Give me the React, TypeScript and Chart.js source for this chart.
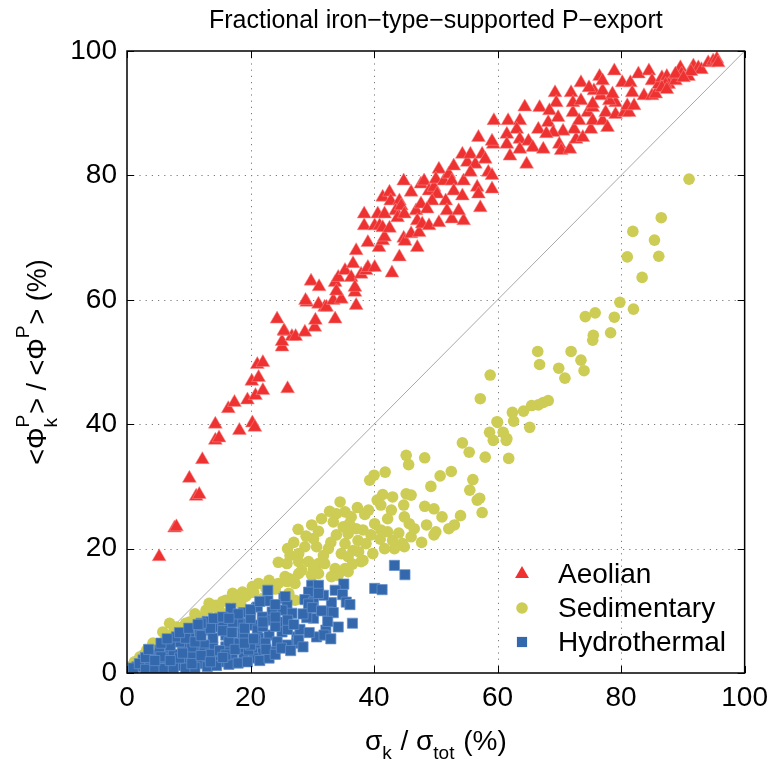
import React, { useEffect, useRef } from 'react';
import { Chart, registerables } from 'chart.js';

Chart.register(...registerables);

const FONT = '"Liberation Sans", Arial, Helvetica, sans-serif';

const titleText = 'Fractional iron\u2212type\u2212supported P\u2212export';
const seriesNames = ['Aeolian', 'Sedimentary', 'Hydrothermal'];
const tickValues = [0, 20, 40, 60, 80, 100];
const gridValues = [20, 40, 60, 80];
const diagonal: [number, number][] = [[0, 0], [100, 100]];

const RED = 'rgb(238,50,50)';
const YELLOW = 'rgb(205,204,84)';
const BLUE = 'rgb(52,104,172)';

const aeolian: [number, number][] = [
  [5.2, 18.7], [7.7, 23.3], [8.0, 23.5], [11.2, 28.4], [11.7, 28.7], [10.1, 31.3], [12.2, 34.3],
  [14.3, 37.4], [14.9, 37.8], [14.3, 40.0], [18.2, 39.0], [20.3, 40.2], [20.7, 39.5], [16.4, 42.5],
  [17.4, 43.5], [19.5, 43.9], [20.8, 44.6], [22.0, 45.4], [20.2, 46.9], [21.3, 47.5], [21.1, 49.6],
  [22.0, 49.9], [26.0, 45.7], [25.1, 52.4], [25.1, 53.3], [25.5, 54.9], [26.7, 54.1], [27.3, 54.1],
  [28.8, 54.8], [30.4, 55.6], [30.5, 56.7], [24.3, 56.9], [32.0, 58.8], [33.7, 56.9], [29.1, 59.6],
  [25.4, 55.0], [28.9, 59.9], [29.8, 63.0], [31.1, 62.1], [31.0, 59.3], [32.3, 58.8], [33.4, 59.9],
  [34.7, 60.1], [33.7, 62.8], [34.2, 63.6], [33.9, 61.4], [35.3, 64.7], [36.6, 65.8], [36.3, 63.6],
  [36.9, 61.2], [36.9, 62.0], [37.1, 59.1], [37.1, 67.9], [37.9, 64.1], [38.7, 64.7], [39.0, 65.2],
  [40.1, 65.2], [39.0, 69.2], [38.4, 73.8], [38.4, 71.9], [40.8, 68.4], [41.4, 69.5], [41.7, 70.1],
  [40.1, 71.9], [40.9, 71.9], [41.4, 71.6], [42.5, 71.5], [40.6, 73.8], [41.7, 73.8], [41.4, 76.5],
  [42.5, 77.3], [42.7, 75.9], [44.1, 75.9], [43.5, 74.3], [44.4, 75.1], [43.8, 73.2], [44.9, 73.8],
  [44.8, 79.1], [44.1, 66.9], [42.9, 64.3], [44.8, 69.9], [45.0, 69.4], [46.0, 70.6], [47.0, 68.4],
  [47.3, 70.8], [46.0, 77.3], [46.8, 74.3], [47.0, 72.7], [47.8, 72.2], [48.9, 71.9], [50.5, 72.4],
  [52.6, 73.0], [54.5, 72.7], [47.6, 75.4], [47.6, 78.6], [48.1, 79.1], [48.9, 77.5], [49.7, 78.1],
  [50.2, 77.0], [49.4, 75.9], [48.6, 74.6], [50.5, 81.0], [50.0, 79.4], [51.3, 79.1], [52.1, 80.2],
  [52.9, 81.5], [52.6, 79.1], [51.6, 75.9], [51.8, 74.3], [52.9, 77.5], [53.7, 74.3], [54.3, 76.7],
  [54.5, 79.1], [54.3, 83.4], [55.1, 82.1], [55.6, 83.4], [56.4, 81.8], [55.6, 80.5], [56.7, 78.1],
  [56.9, 86.1], [57.5, 83.4], [58.0, 82.6], [57.2, 74.8], [56.9, 77.0], [58.5, 80.5], [59.1, 77.8],
  [59.3, 85.0], [59.1, 80.0], [59.4, 88.8], [61.7, 88.8], [63.6, 88.8], [64.4, 91.0], [66.8, 90.9],
  [69.3, 93.3], [71.9, 93.3], [69.5, 91.7], [68.4, 90.4], [68.2, 88.5], [66.6, 87.4], [63.1, 87.4],
  [61.5, 86.6], [59.1, 85.5], [61.5, 85.0], [63.6, 85.8], [65.0, 85.5], [65.7, 84.5], [67.4, 84.2],
  [63.6, 84.2], [62.0, 83.1], [64.7, 81.8], [70.0, 85.0], [70.3, 84.0], [71.7, 84.2], [72.7, 85.8],
  [73.8, 86.1], [75.1, 87.4], [72.4, 87.4], [70.6, 87.1], [69.0, 86.9], [67.9, 86.7], [69.8, 89.3],
  [72.2, 90.1], [73.2, 88.8], [72.2, 91.7], [73.5, 92.0], [74.6, 90.1], [75.4, 90.9], [75.4, 88.8],
  [77.0, 88.8], [77.8, 87.7], [77.5, 90.1], [79.1, 89.8], [80.5, 90.1], [81.3, 90.1], [81.0, 91.2],
  [82.1, 91.2], [79.1, 91.7], [78.1, 92.0], [76.7, 92.8], [75.6, 93.6], [77.0, 93.6], [78.6, 93.1],
  [75.4, 91.5], [73.5, 94.9], [74.8, 94.1], [76.5, 95.9], [77.0, 95.2], [78.9, 96.8], [80.2, 94.9],
  [81.5, 94.9], [81.8, 93.3], [82.8, 96.3], [84.5, 96.8], [83.7, 92.8], [85.0, 92.8], [85.6, 93.1],
  [85.0, 95.2], [86.1, 94.6], [86.6, 95.7], [87.4, 95.9], [87.7, 94.6], [88.8, 95.2], [89.6, 97.3],
  [89.8, 96.3], [90.9, 95.9], [91.7, 97.6], [92.5, 97.3], [93.0, 97.0], [94.1, 98.1], [94.9, 98.4],
  [95.5, 98.7], [95.7, 98.1], [91.3, 96.7], [87.2, 94.6], [88.8, 96.3], [90.1, 95.7], [86.6, 94.1],
  [87.4, 93.8],
];

const sedimentary: [number, number][] = [
  [91.0, 79.4], [86.5, 73.2], [81.9, 71.0], [85.4, 69.6], [81.0, 66.9], [86.1, 67.0], [83.4, 63.6],
  [79.8, 59.6], [82.0, 58.5], [78.9, 57.2], [78.3, 54.7], [74.2, 57.3], [75.8, 57.9], [75.5, 54.3],
  [75.4, 53.5], [71.9, 51.7], [73.5, 50.3], [74.0, 48.6], [69.9, 49.0], [70.9, 47.4], [66.5, 51.7],
  [66.8, 49.6], [58.8, 47.9], [57.2, 44.1], [68.2, 43.8], [67.4, 43.5], [66.6, 43.1], [65.5, 43.0],
  [64.2, 42.1], [62.4, 41.9], [62.6, 40.5], [59.9, 40.4], [58.7, 38.7], [60.9, 38.7], [65.2, 39.5],
  [61.5, 37.7], [60.0, 40.3], [59.3, 37.4], [61.4, 37.4], [61.8, 34.5], [58.0, 34.7], [55.4, 35.5],
  [54.3, 37.0], [52.5, 32.4], [50.7, 31.7], [49.2, 30.0], [48.2, 34.6], [45.2, 35.0], [45.6, 33.5],
  [41.8, 32.3], [40.0, 31.8], [39.3, 31.0], [41.4, 28.7], [43.0, 28.3], [45.2, 28.8], [46.0, 28.6],
  [44.8, 27.0], [41.1, 27.0], [39.1, 26.2], [37.3, 26.6], [35.3, 25.9], [33.9, 25.6], [33.4, 24.3],
  [36.3, 25.1], [40.1, 24.0], [42.2, 24.8], [44.9, 25.1], [45.7, 24.0], [48.2, 26.8], [49.7, 26.4],
  [51.0, 25.1], [54.0, 25.3], [57.5, 25.8], [56.7, 27.8], [57.1, 28.1], [55.5, 29.4], [56.0, 31.1],
  [53.0, 23.8], [52.1, 23.2], [50.0, 22.7], [49.7, 22.2], [47.7, 21.0], [46.0, 21.9], [44.6, 20.8],
  [43.3, 20.0], [41.7, 20.0], [44.9, 20.3], [43.0, 21.3], [42.2, 22.7], [41.1, 23.0], [39.5, 22.2],
  [38.2, 23.0], [37.1, 23.2], [35.8, 22.4], [37.4, 21.3], [38.7, 20.8], [36.6, 19.7], [35.3, 20.8],
  [34.7, 19.2], [35.8, 18.7], [38.2, 18.1], [33.9, 22.2], [32.6, 20.0], [31.8, 18.9], [29.9, 23.8],
  [27.7, 23.1], [30.2, 21.6], [30.7, 20.3], [28.8, 20.3], [27.8, 19.2], [26.4, 18.9], [25.9, 17.6],
  [27.8, 17.9], [29.4, 17.9], [31.0, 17.6], [30.2, 16.8], [28.3, 16.5], [33.7, 16.8], [35.3, 16.8],
  [34.2, 15.7], [35.8, 16.3], [33.1, 15.5], [25.6, 15.5], [23.0, 14.9], [13.3, 11.2], [16.0, 11.7],
  [17.1, 12.8], [18.7, 13.0], [20.3, 13.9], [21.3, 14.4], [27.8, 16.0], [30.4, 17.1], [37.9, 17.9],
  [29.9, 15.7], [26.2, 15.2], [23.5, 14.1], [10.1, 8.2], [11.7, 9.0], [6.9, 8.0], [4.2, 4.8],
  [2.1, 2.6], [0.5, 1.0], [9.0, 7.4], [12.8, 10.1], [14.4, 10.9], [19.7, 12.8], [8.0, 7.4],
  [5.8, 6.6], [3.2, 3.7], [32.0, 17.6], [25.9, 14.7], [27.2, 14.4], [19.2, 12.3], [18.4, 11.2],
  [26.2, 12.8], [27.2, 11.7], [1.2, 1.8], [24.0, 13.5], [15.0, 10.0], [22.0, 12.0], [10.0, 6.0],
  [12.0, 7.0], [4.0, 3.5], [6.0, 5.0], [7.5, 6.5], [9.5, 8.0], [11.0, 9.5], [13.5, 10.5],
  [15.5, 11.5], [17.5, 12.0], [20.5, 13.0], [22.5, 13.6], [24.5, 14.4], [27.0, 15.0], [31.0, 16.0],
  [36.5, 17.5], [2.8, 3.0], [5.0, 4.2], [31.5, 24.8], [32.8, 26.0], [34.5, 27.5], [36.0, 24.0],
  [38.5, 25.5], [40.5, 27.8], [42.8, 26.2], [35.0, 23.5], [31.0, 22.8], [33.0, 21.0], [29.0, 22.0],
  [27.0, 21.0], [26.0, 20.0], [24.5, 17.8], [37.5, 19.5], [39.8, 19.2], [41.0, 21.5], [44.0, 22.5],
  [46.5, 23.2], [48.5, 23.8],
];

const hydrothermal: [number, number][] = [
  [43.3, 17.3], [45.0, 15.8], [40.1, 13.6], [41.3, 13.4], [35.1, 14.3], [33.7, 13.3], [34.9, 12.6],
  [35.5, 11.4], [36.1, 11.0], [33.1, 11.3], [32.6, 9.8], [33.4, 9.7], [36.5, 8.0], [34.2, 7.4],
  [32.2, 6.9], [30.7, 5.8], [31.9, 6.1], [30.2, 8.8], [29.1, 8.9], [29.9, 14.1], [31.0, 14.1],
  [31.8, 12.5], [29.4, 13.0], [28.8, 11.8], [30.2, 11.4], [29.4, 11.1], [22.8, 13.3], [22.8, 11.6],
  [18.9, 9.7], [25.4, 12.0], [25.9, 10.9], [26.7, 9.6], [25.1, 10.1], [23.5, 9.8], [21.1, 10.6],
  [21.9, 9.0], [23.5, 8.5], [25.1, 8.2], [20.3, 7.7], [18.7, 8.0], [21.1, 6.9], [23.0, 6.1],
  [25.1, 6.6], [27.5, 5.8], [27.5, 4.8], [25.9, 4.5], [24.3, 5.0], [21.3, 5.6], [21.3, 4.5],
  [23.5, 3.4], [21.9, 3.2], [20.3, 3.2], [18.7, 4.0], [18.9, 2.4], [20.5, 2.4], [16.8, 10.4],
  [13.0, 8.3], [7.7, 5.0], [10.6, 5.8], [11.7, 6.6], [13.3, 6.9], [14.9, 7.4], [17.1, 7.7],
  [18.1, 8.2], [20.8, 5.3], [18.1, 4.8], [16.0, 4.2], [13.9, 4.2], [11.7, 3.7], [9.6, 3.4],
  [6.4, 3.4], [4.2, 2.9], [2.6, 2.1], [1.6, 1.0], [3.7, 1.0], [6.4, 1.8], [9.0, 2.1], [11.7, 2.1],
  [14.4, 2.4], [17.1, 2.6], [9.0, 4.8], [13.9, 5.6], [16.0, 6.1], [18.7, 6.4], [25.6, 12.3],
  [31.0, 12.8], [27.8, 5.3], [22.4, 4.8], [19.7, 3.7], [1.0, 0.8], [5.3, 3.7], [6.9, 4.0],
  [8.5, 5.0], [10.1, 5.8], [14.4, 7.4], [15.5, 7.4], [17.1, 8.2], [2.0, 1.5], [5.0, 1.5],
  [8.0, 1.2], [12.0, 1.5], [15.0, 1.8], [20.0, 4.5], [24.0, 7.5], [28.0, 7.0], [26.0, 7.0],
  [22.0, 7.5], [19.0, 6.0], [16.5, 5.0], [12.5, 4.5], [10.5, 2.8], [3.0, 0.6], [4.5, 0.8],
  [6.0, 0.7], [7.5, 0.9], [9.5, 0.8], [11.0, 0.9], [13.0, 1.0], [14.5, 1.2], [16.5, 1.4],
  [18.0, 1.6], [19.5, 1.8], [21.5, 2.0], [23.0, 2.4], [3.0, 2.5], [5.5, 2.6], [7.5, 3.0],
  [8.5, 2.4], [10.5, 4.2], [12.5, 3.2], [13.5, 3.0], [15.0, 3.6], [16.0, 2.9], [17.5, 3.8],
  [19.0, 4.8], [20.5, 5.5], [22.5, 3.8], [24.0, 3.0], [25.0, 4.0], [26.5, 3.6], [28.5, 4.2],
  [7.0, 4.4], [8.0, 5.8], [9.5, 5.6], [11.0, 5.0], [12.0, 6.0], [13.5, 7.2], [15.5, 6.8],
  [17.0, 6.5], [19.0, 7.2], [20.0, 8.8], [22.0, 8.2], [24.0, 9.0], [26.0, 8.5], [27.0, 7.8],
  [28.5, 9.5], [30.0, 10.5], [31.5, 10.0], [32.5, 8.3], [29.5, 6.5], [33.0, 5.5], [12.0, 8.0],
  [14.0, 8.8], [15.5, 9.0], [18.0, 9.5], [20.0, 10.2], [21.5, 11.5], [24.0, 11.0], [16.5, 8.8],
  [3.5, 3.8], [5.5, 4.8], [7.0, 2.0], [9.0, 3.2], [10.5, 1.5], [12.0, 2.8], [13.5, 1.8],
  [15.5, 2.5], [4.5, 2.0], [6.5, 5.5], [8.5, 6.5], [10.0, 7.2], [11.5, 7.8],
];

const toPts = (arr: [number, number][]) => arr.map(([x, y]) => ({ x, y }));

type Part = { t?: string; sub?: string; sup?: string };

function richWidth(ctx: CanvasRenderingContext2D, parts: Part[], size: number, small: number) {
  let w = 0;
  for (const p of parts) {
    if (p.t) {
      ctx.font = `${size}px ${FONT}`;
      w += ctx.measureText(p.t).width;
    } else {
      ctx.font = `${small}px ${FONT}`;
      const a = p.sub ? ctx.measureText(p.sub).width : 0;
      const b = p.sup ? ctx.measureText(p.sup).width : 0;
      w += Math.max(a, b) + 1;
    }
  }
  return w;
}

function drawRich(ctx: CanvasRenderingContext2D, parts: Part[], x0: number, y0: number, size: number, small: number, subShift: number, supShift: number) {
  let x = x0;
  ctx.textBaseline = 'alphabetic';
  ctx.textAlign = 'left';
  for (const p of parts) {
    if (p.t) {
      ctx.font = `${size}px ${FONT}`;
      ctx.fillText(p.t, x, y0);
      x += ctx.measureText(p.t).width;
    } else {
      ctx.font = `${small}px ${FONT}`;
      let w = 0;
      if (p.sub) {
        ctx.fillText(p.sub, x, y0 + subShift);
        w = Math.max(w, ctx.measureText(p.sub).width);
      }
      if (p.sup) {
        ctx.fillText(p.sup, x, y0 - supShift);
        w = Math.max(w, ctx.measureText(p.sup).width);
      }
      x += w + 1;
    }
  }
}

const yTitle: Part[] = [
  { t: '<\u03A6' }, { sub: 'k', sup: 'P' }, { t: '> / <\u03A6' }, { sup: 'P' }, { t: '> (%)' },
];
const xTitle: Part[] = [
  { t: '\u03C3' }, { sub: 'k' }, { t: ' / \u03C3' }, { sub: 'tot' }, { t: ' (%)' },
];

const framePlugin = {
  id: 'frame',
  beforeDatasetsDraw(chart: any) {
    const { ctx, chartArea: a, scales } = chart;
    ctx.save();
    ctx.strokeStyle = '#7a7a7a';
    ctx.lineWidth = 1;
    ctx.setLineDash([1.2, 5]);
    for (const v of gridValues) {
      const px = Math.round(scales.x.getPixelForValue(v)) + 0.5;
      ctx.beginPath();
      ctx.moveTo(px, a.top);
      ctx.lineTo(px, a.bottom);
      ctx.stroke();
      const py = Math.round(scales.y.getPixelForValue(v)) + 0.5;
      ctx.beginPath();
      ctx.moveTo(a.left, py);
      ctx.lineTo(a.right, py);
      ctx.stroke();
    }
    ctx.restore();
  },
  afterDatasetsDraw(chart: any) {
    const { ctx, chartArea: a, scales } = chart;
    ctx.save();
    ctx.strokeStyle = '#000';
    ctx.lineWidth = 1.5;
    ctx.setLineDash([]);
    ctx.strokeRect(a.left, a.top, a.right - a.left, a.bottom - a.top);
    ctx.lineWidth = 1;
    const tl = 7;
    for (const v of tickValues) {
      const px = Math.round(scales.x.getPixelForValue(v)) + 0.5;
      ctx.beginPath();
      ctx.moveTo(px, a.bottom); ctx.lineTo(px, a.bottom - tl);
      ctx.moveTo(px, a.top); ctx.lineTo(px, a.top + tl);
      ctx.stroke();
      const py = Math.round(scales.y.getPixelForValue(v)) + 0.5;
      ctx.beginPath();
      ctx.moveTo(a.left, py); ctx.lineTo(a.left + tl, py);
      ctx.moveTo(a.right, py); ctx.lineTo(a.right - tl, py);
      ctx.stroke();
    }

    // legend
    const lx = 522;
    const tx = 558;
    const rows = [574, 608, 642];
    ctx.font = `28px ${FONT}`;
    ctx.fillStyle = '#000';
    ctx.textBaseline = 'middle';
    ctx.textAlign = 'left';
    seriesNames.forEach((n, i) => ctx.fillText(n, tx, rows[i] + 1));
    ctx.fillStyle = RED;
    const r = 8;
    ctx.beginPath();
    ctx.moveTo(lx, rows[0] - r);
    ctx.lineTo(lx + r * Math.sin((2 * Math.PI) / 3), rows[0] + r / 2);
    ctx.lineTo(lx - r * Math.sin((2 * Math.PI) / 3), rows[0] + r / 2);
    ctx.closePath();
    ctx.fill();
    ctx.fillStyle = YELLOW;
    ctx.beginPath();
    ctx.arc(lx, rows[1], 5.8, 0, Math.PI * 2);
    ctx.fill();
    ctx.fillStyle = BLUE;
    const s = 7.2 * Math.SQRT1_2;
    ctx.fillRect(lx - s, rows[2] - s, 2 * s, 2 * s);
    ctx.restore();
  },
  afterDraw(chart: any) {
    const { ctx, chartArea: a } = chart;
    ctx.save();
    ctx.fillStyle = '#000';
    ctx.font = `25px ${FONT}`;
    ctx.textAlign = 'center';
    ctx.textBaseline = 'alphabetic';
    const cx = (a.left + a.right) / 2;
    ctx.fillText(titleText, cx, 28);

    const size = 28, small = 19;
    const wx = richWidth(ctx, xTitle, size, small);
    drawRich(ctx, xTitle, cx - wx / 2, 750, size, small, 9, 14);

    const cy = (a.top + a.bottom) / 2;
    const wy = richWidth(ctx, yTitle, 27, small);
    ctx.translate(46, cy);
    ctx.rotate(-Math.PI / 2);
    drawRich(ctx, yTitle, -wy / 2, 0, 27, small, 11, 17);
    ctx.restore();
  },
};

export default function App() {
  const ref = useRef<HTMLCanvasElement>(null);
  useEffect(() => {
    if (!ref.current) return;
    const tickFont = { family: FONT, size: 28 };
    const chart = new Chart(ref.current, {
      type: 'scatter',
      data: {
        datasets: [
          {
            label: seriesNames[2],
            data: toPts(hydrothermal),
            pointStyle: 'rect',
            pointRadius: 7.2,
            backgroundColor: BLUE,
            borderColor: 'rgba(100,145,205,0.9)',
            borderWidth: 0.8,
            order: 0,
          },
          {
            label: seriesNames[1],
            data: toPts(sedimentary),
            pointStyle: 'circle',
            pointRadius: 5.8,
            backgroundColor: YELLOW,
            borderColor: YELLOW,
            borderWidth: 0,
            order: 1,
          },
          {
            label: seriesNames[0],
            data: toPts(aeolian),
            pointStyle: 'triangle',
            pointRadius: 8,
            backgroundColor: RED,
            borderColor: 'rgba(250,140,140,0.9)',
            borderWidth: 0.6,
            order: 2,
          },
          {
            type: 'line',
            label: 'diag',
            data: toPts(diagonal),
            borderColor: '#a8a8a8',
            borderWidth: 1,
            pointRadius: 0,
            showLine: true,
            order: 3,
          } as any,
        ],
      },
      options: {
        animation: false,
        responsive: false,
        maintainAspectRatio: false,
        layout: { padding: { top: 51, right: 26, left: 0, bottom: 0 } },
        plugins: {
          legend: { display: false },
          tooltip: { enabled: false },
          title: { display: false },
        },
        scales: {
          x: {
            type: 'linear',
            min: 0,
            max: 100,
            afterBuildTicks: (s: any) => { s.ticks = tickValues.map((v) => ({ value: v })); },
            grid: { display: false, drawTicks: false },
            border: { display: false },
            ticks: { font: tickFont, color: '#000', padding: 8, maxRotation: 0, autoSkip: false },
            afterFit: (s: any) => { s.height = 94; },
          },
          y: {
            type: 'linear',
            min: 0,
            max: 100,
            afterBuildTicks: (s: any) => { s.ticks = tickValues.map((v) => ({ value: v })); },
            grid: { display: false, drawTicks: false },
            border: { display: false },
            ticks: { font: tickFont, color: '#000', padding: 10, autoSkip: false },
            afterFit: (s: any) => { s.width = 127; },
          },
        },
      },
      plugins: [framePlugin],
    } as any);
    return () => chart.destroy();
  }, []);
  return (
    <div style={{ position: 'fixed', left: 0, top: 0, width: 776, height: 767, background: '#fff' }}>
      <canvas ref={ref} width={776} height={767} style={{ display: 'block' }} />
    </div>
  );
}
